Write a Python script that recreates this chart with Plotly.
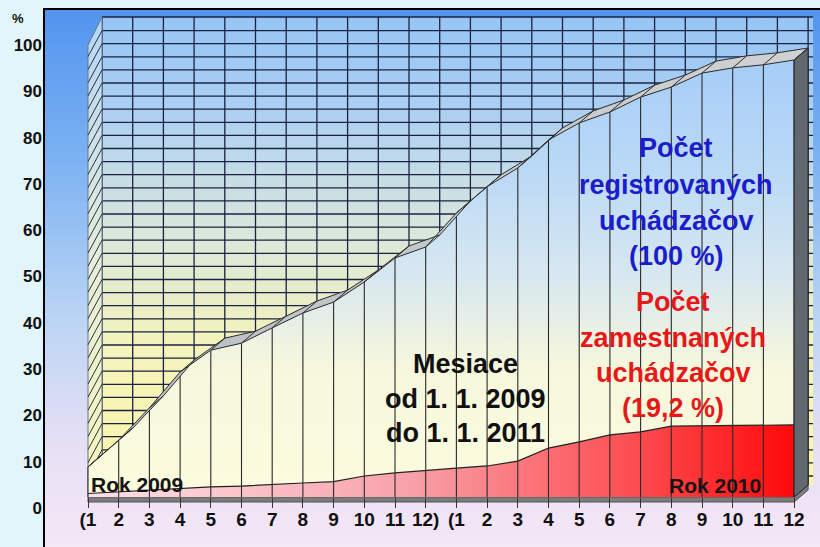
import numpy as np
import plotly.graph_objects as go

# ---------------- data ----------------
tick_labels = ["(1", "2", "3", "4", "5", "6", "7", "8", "9", "10", "11", "12)",
               "(1", "2", "3", "4", "5", "6", "7", "8", "9", "10", "11", "12"]
registered = [6.9, 13.0, 20.4, 28.6, 33.6, 35.2, 38.7, 42.1, 44.6, 49.2, 54.7, 57.2,
              65.0, 71.0, 75.3, 81.7, 85.6, 88.1, 91.5, 93.8, 97.0, 98.2, 98.9, 100.0]
employed = [0.8, 1.2, 1.6, 1.9, 2.3, 2.5, 2.9, 3.2, 3.5, 4.8, 5.5, 6.1,
            6.6, 7.1, 8.2, 11.2, 12.6, 14.2, 14.9, 16.2, 16.3, 16.4, 16.5, 16.5]
y_ticks = list(range(0, 101, 10))

label_registered = ["Počet", "registrovaných", "uchádzačov", "(100 %)"]
label_employed = ["Počet", "zamestnaných", "uchádzačov", "(19,2 %)"]
label_months = ["Mesiace", "od 1. 1. 2009", "do 1. 1. 2011"]
label_year1 = "Rok 2009"
label_year2 = "Rok 2010"

# ---------------- geometry (layout only) ----------------
W, H = 820, 547
FX0, FSX = 88.0, 30.7      # px of first month on front edge, px per month
FY0, FSY = 497.0, 4.37     # px of value 0 on front edge, px per percent
FONT = "Liberation Sans, Arial, sans-serif"


def px_x(p):
    return (p - FX0) / FSX


def px_y(p):
    return (FY0 - p) / FSY


x_range = [px_x(0), px_x(W)]
y_range = [px_y(H), px_y(0)]
DX = 14 / FSX
DY = 12 / FSY
n = len(registered)
xs = list(range(n))
xe = n - 1
reg = np.array(registered)
emp = np.array(employed)

WALL_TOP = px_y(17)
WALL_RIGHT = xe + DX + 5 / FSX
LEFT_FRONT_TOP = px_y(45)
grid_v = np.arange(px_y(476), WALL_TOP - 0.6, 13.1 / FSY)
HATCH = 26 / FSY
SLAB = 5 / FSY


def segs(pairs):
    X, Y = [], []
    for (a, b), (c, d) in pairs:
        X += [a, c, None]
        Y += [b, d, None]
    return X, Y


fig = go.Figure()

# background of chart box (own subplot, drawn first)
fig.add_trace(go.Scatter(
    x=[0, 1, 1, 0, 0], y=[0, 0, 1, 1, 0], xaxis="x", yaxis="y",
    mode="lines", line=dict(width=0), fill="toself",
    fillgradient=dict(type="vertical", start=0, stop=1,
                      colorscale=[[0, "#f4e7f6"], [0.18, "#e8e0f5"], [0.42, "#bcd5f4"],
                                  [0.72, "#7cb2f2"], [1, "#5294ee"]]),
    hoverinfo="skip", showlegend=False))

wall_scale = [[0, "#fbf6ac"], [0.3, "#f4f3bc"], [0.55, "#d8e6dc"],
              [0.8, "#acd0f2"], [1, "#96c5f5"]]

# back wall
fig.add_trace(go.Scatter(
    x=[DX, WALL_RIGHT, WALL_RIGHT, DX, DX], y=[DY, DY, WALL_TOP, WALL_TOP, DY],
    xaxis="x2", yaxis="y2", mode="lines", line=dict(width=0), fill="toself",
    fillgradient=dict(type="vertical", start=DY, stop=WALL_TOP, colorscale=wall_scale),
    hoverinfo="skip", showlegend=False))

# back wall grid
pairs = [((i + DX, DY), (i + DX, WALL_TOP)) for i in xs]
pairs += [((DX, v), (WALL_RIGHT, v)) for v in grid_v]
pairs += [((DX, WALL_TOP), (WALL_RIGHT, WALL_TOP))]
gx, gy = segs(pairs)
fig.add_trace(go.Scatter(x=gx, y=gy, xaxis="x2", yaxis="y2", mode="lines",
                         line=dict(color="#1b2242", width=1.3),
                         hoverinfo="skip", showlegend=False))

# left side wall
fig.add_trace(go.Scatter(
    x=[0, DX, DX, 0, 0], y=[0, DY, WALL_TOP, LEFT_FRONT_TOP, 0],
    xaxis="x2", yaxis="y2", mode="lines", line=dict(width=1, color="#667788"),
    fill="toself",
    fillgradient=dict(type="vertical", start=0, stop=WALL_TOP,
                      colorscale=[[0, "#fbf7b8"], [0.5, "#e4eed8"], [1, "#b4d6f6"]]),
    hoverinfo="skip", showlegend=False))
hx, hy = segs([((DX, v), (0, v - HATCH)) for v in grid_v if v - HATCH >= 0])
fig.add_trace(go.Scatter(x=hx, y=hy, xaxis="x2", yaxis="y2", mode="lines",
                         line=dict(color="#2a3050", width=1),
                         hoverinfo="skip", showlegend=False))

# floor slab
fig.add_trace(go.Scatter(
    x=[0, xe, xe + DX, xe + DX, xe, 0, 0], y=[0, 0, DY, DY - SLAB, -SLAB, -SLAB, 0],
    xaxis="x2", yaxis="y2", mode="lines", line=dict(width=1, color="#555555"),
    fill="toself", fillcolor="#7c7c7c", hoverinfo="skip", showlegend=False))

# registered (front face, stacked above employed)
fig.add_trace(go.Scatter(
    x=xs + xs[::-1], y=list(emp) + list(reg[::-1]),
    xaxis="x2", yaxis="y2", mode="lines", line=dict(width=0), fill="toself",
    fillgradient=dict(type="vertical", start=0, stop=100,
                      colorscale=[[0, "#fcfbde"], [0.3, "#f6f7dc"], [0.5, "#d8e8f0"],
                                  [0.75, "#bad9f6"], [1, "#a6cdf8"]]),
    hoverinfo="skip", showlegend=False))

# employed
fig.add_trace(go.Scatter(
    x=xs, y=emp, xaxis="x2", yaxis="y2", mode="lines",
    line=dict(color="#222222", width=1.2), fill="tozeroy",
    fillgradient=dict(type="horizontal", start=0, stop=xe,
                      colorscale=[[0, "#fde2e8"], [0.45, "#f8a2aa"], [0.75, "#fb5458"],
                                  [1, "#ff0a0a"]]),
    hoverinfo="skip", showlegend=False))

# drop lines on front face
dx_, dy_ = segs([((i, 0), (i, reg[i])) for i in xs])
fig.add_trace(go.Scatter(x=dx_, y=dy_, xaxis="x2", yaxis="y2", mode="lines",
                         line=dict(color="#2a2a2a", width=1.1),
                         hoverinfo="skip", showlegend=False))

# top ribbon of registered area
fig.add_trace(go.Scatter(
    x=[x for x in xs] + [x + DX for x in xs[::-1]] + [0],
    y=list(reg) + list(reg[::-1] + DY) + [reg[0]],
    xaxis="x2", yaxis="y2", mode="lines", line=dict(color="#2b2b2b", width=1),
    fill="toself",
    fillgradient=dict(type="horizontal", start=0, stop=xe,
                      colorscale=[[0, "#b8bec4"], [0.5, "#c4c8cc"], [1, "#cfd1d2"]]),
    hoverinfo="skip", showlegend=False))
rx, ry = segs([((i, reg[i]), (i + DX, reg[i] + DY)) for i in xs])
fig.add_trace(go.Scatter(x=rx, y=ry, xaxis="x2", yaxis="y2", mode="lines",
                         line=dict(color="#2b2b2b", width=1),
                         hoverinfo="skip", showlegend=False))

# right side face
fig.add_trace(go.Scatter(
    x=[xe, xe, xe + DX, xe + DX, xe], y=[0, reg[-1], reg[-1] + DY, DY, 0],
    xaxis="x2", yaxis="y2", mode="lines", line=dict(color="#222222", width=1),
    fill="toself", fillcolor="#626870", hoverinfo="skip", showlegend=False))

# carrier for value-label axis
fig.add_trace(go.Scatter(x=[0], y=[0], xaxis="x2", yaxis="y3", mode="markers",
                         marker=dict(opacity=0), hoverinfo="skip", showlegend=False))

# ---------------- annotations ----------------
ann = []
for t, py in zip(label_registered, [148, 185, 221, 256]):
    ann.append(dict(x=px_x(676), y=px_y(py), xref="x2", yref="y2", text=t,
                    showarrow=False, xanchor="center", yanchor="middle",
                    font=dict(family=FONT, size=27, color="#1c1ccc", weight="bold")))
for t, py in zip(label_employed, [302, 338, 373, 408]):
    ann.append(dict(x=px_x(673), y=px_y(py), xref="x2", yref="y2", text=t,
                    showarrow=False, xanchor="center", yanchor="middle",
                    font=dict(family=FONT, size=27, color="#e81818", weight="bold")))
for t, py in zip(label_months, [364, 399, 433]):
    ann.append(dict(x=px_x(465), y=px_y(py), xref="x2", yref="y2", text=t,
                    showarrow=False, xanchor="center", yanchor="middle",
                    font=dict(family=FONT, size=27, color="#111111", weight="bold")))
ann.append(dict(x=px_x(89), y=px_y(484), xref="x2", yref="y2", text=label_year1,
                showarrow=False, xanchor="left", yanchor="middle",
                font=dict(family=FONT, size=21, color="#141414", weight="bold")))
ann.append(dict(x=px_x(763), y=px_y(485), xref="x2", yref="y2", text=label_year2,
                showarrow=False, xanchor="right", yanchor="middle",
                font=dict(family=FONT, size=21, color="#141414", weight="bold")))
ann.append(dict(x=18 / W, y=1 - 18 / H, xref="paper", yref="paper", text="%",
                showarrow=False, xanchor="center", yanchor="middle",
                font=dict(family=FONT, size=13, color="#111111", weight="bold")))

lbl_scale = (508 - 45) / 100.0
y3_range = [-(H - 508) / lbl_scale, 508 / lbl_scale]

fig.update_layout(
    width=W, height=H, margin=dict(l=0, r=0, t=0, b=0),
    paper_bgcolor="#e2f5fb", plot_bgcolor="rgba(0,0,0,0)", showlegend=False,
    annotations=ann,
    xaxis=dict(domain=[45 / W, 1], range=[0, 1], side="top", showline=True,
               linecolor="black", linewidth=1.5, showgrid=False, zeroline=False,
               showticklabels=False, ticks="", fixedrange=True),
    yaxis=dict(domain=[0, 1 - 10 / H], range=[0, 1], showline=True,
               linecolor="black", linewidth=1.5, showgrid=False, zeroline=False,
               showticklabels=False, ticks="", fixedrange=True),
    xaxis2=dict(domain=[0, 1], range=x_range, anchor="free", position=1 - FY0 / H,
                tickvals=xs, ticktext=tick_labels, ticks="outside", ticklen=10,
                tickwidth=1.2, tickcolor="#333333", showline=False, showgrid=False,
                zeroline=False, ticklabelstandoff=-5,
                tickfont=dict(family=FONT, size=19, color="#111111", weight="bold")),
    yaxis2=dict(domain=[0, 1], range=y_range, anchor="x2", visible=False),
    yaxis3=dict(overlaying="y2", range=y3_range, anchor="free", position=45 / W,
                side="left", tickvals=y_ticks, ticks="", showline=False,
                showgrid=False, zeroline=False, ticklabelstandoff=3,
                tickfont=dict(family=FONT, size=17, color="#111111", weight="bold")),
)

fig.write_html("out.html", config={"displayModeBar": False},
               post_script="document.body.style.margin='0';document.body.style.padding='0';")
